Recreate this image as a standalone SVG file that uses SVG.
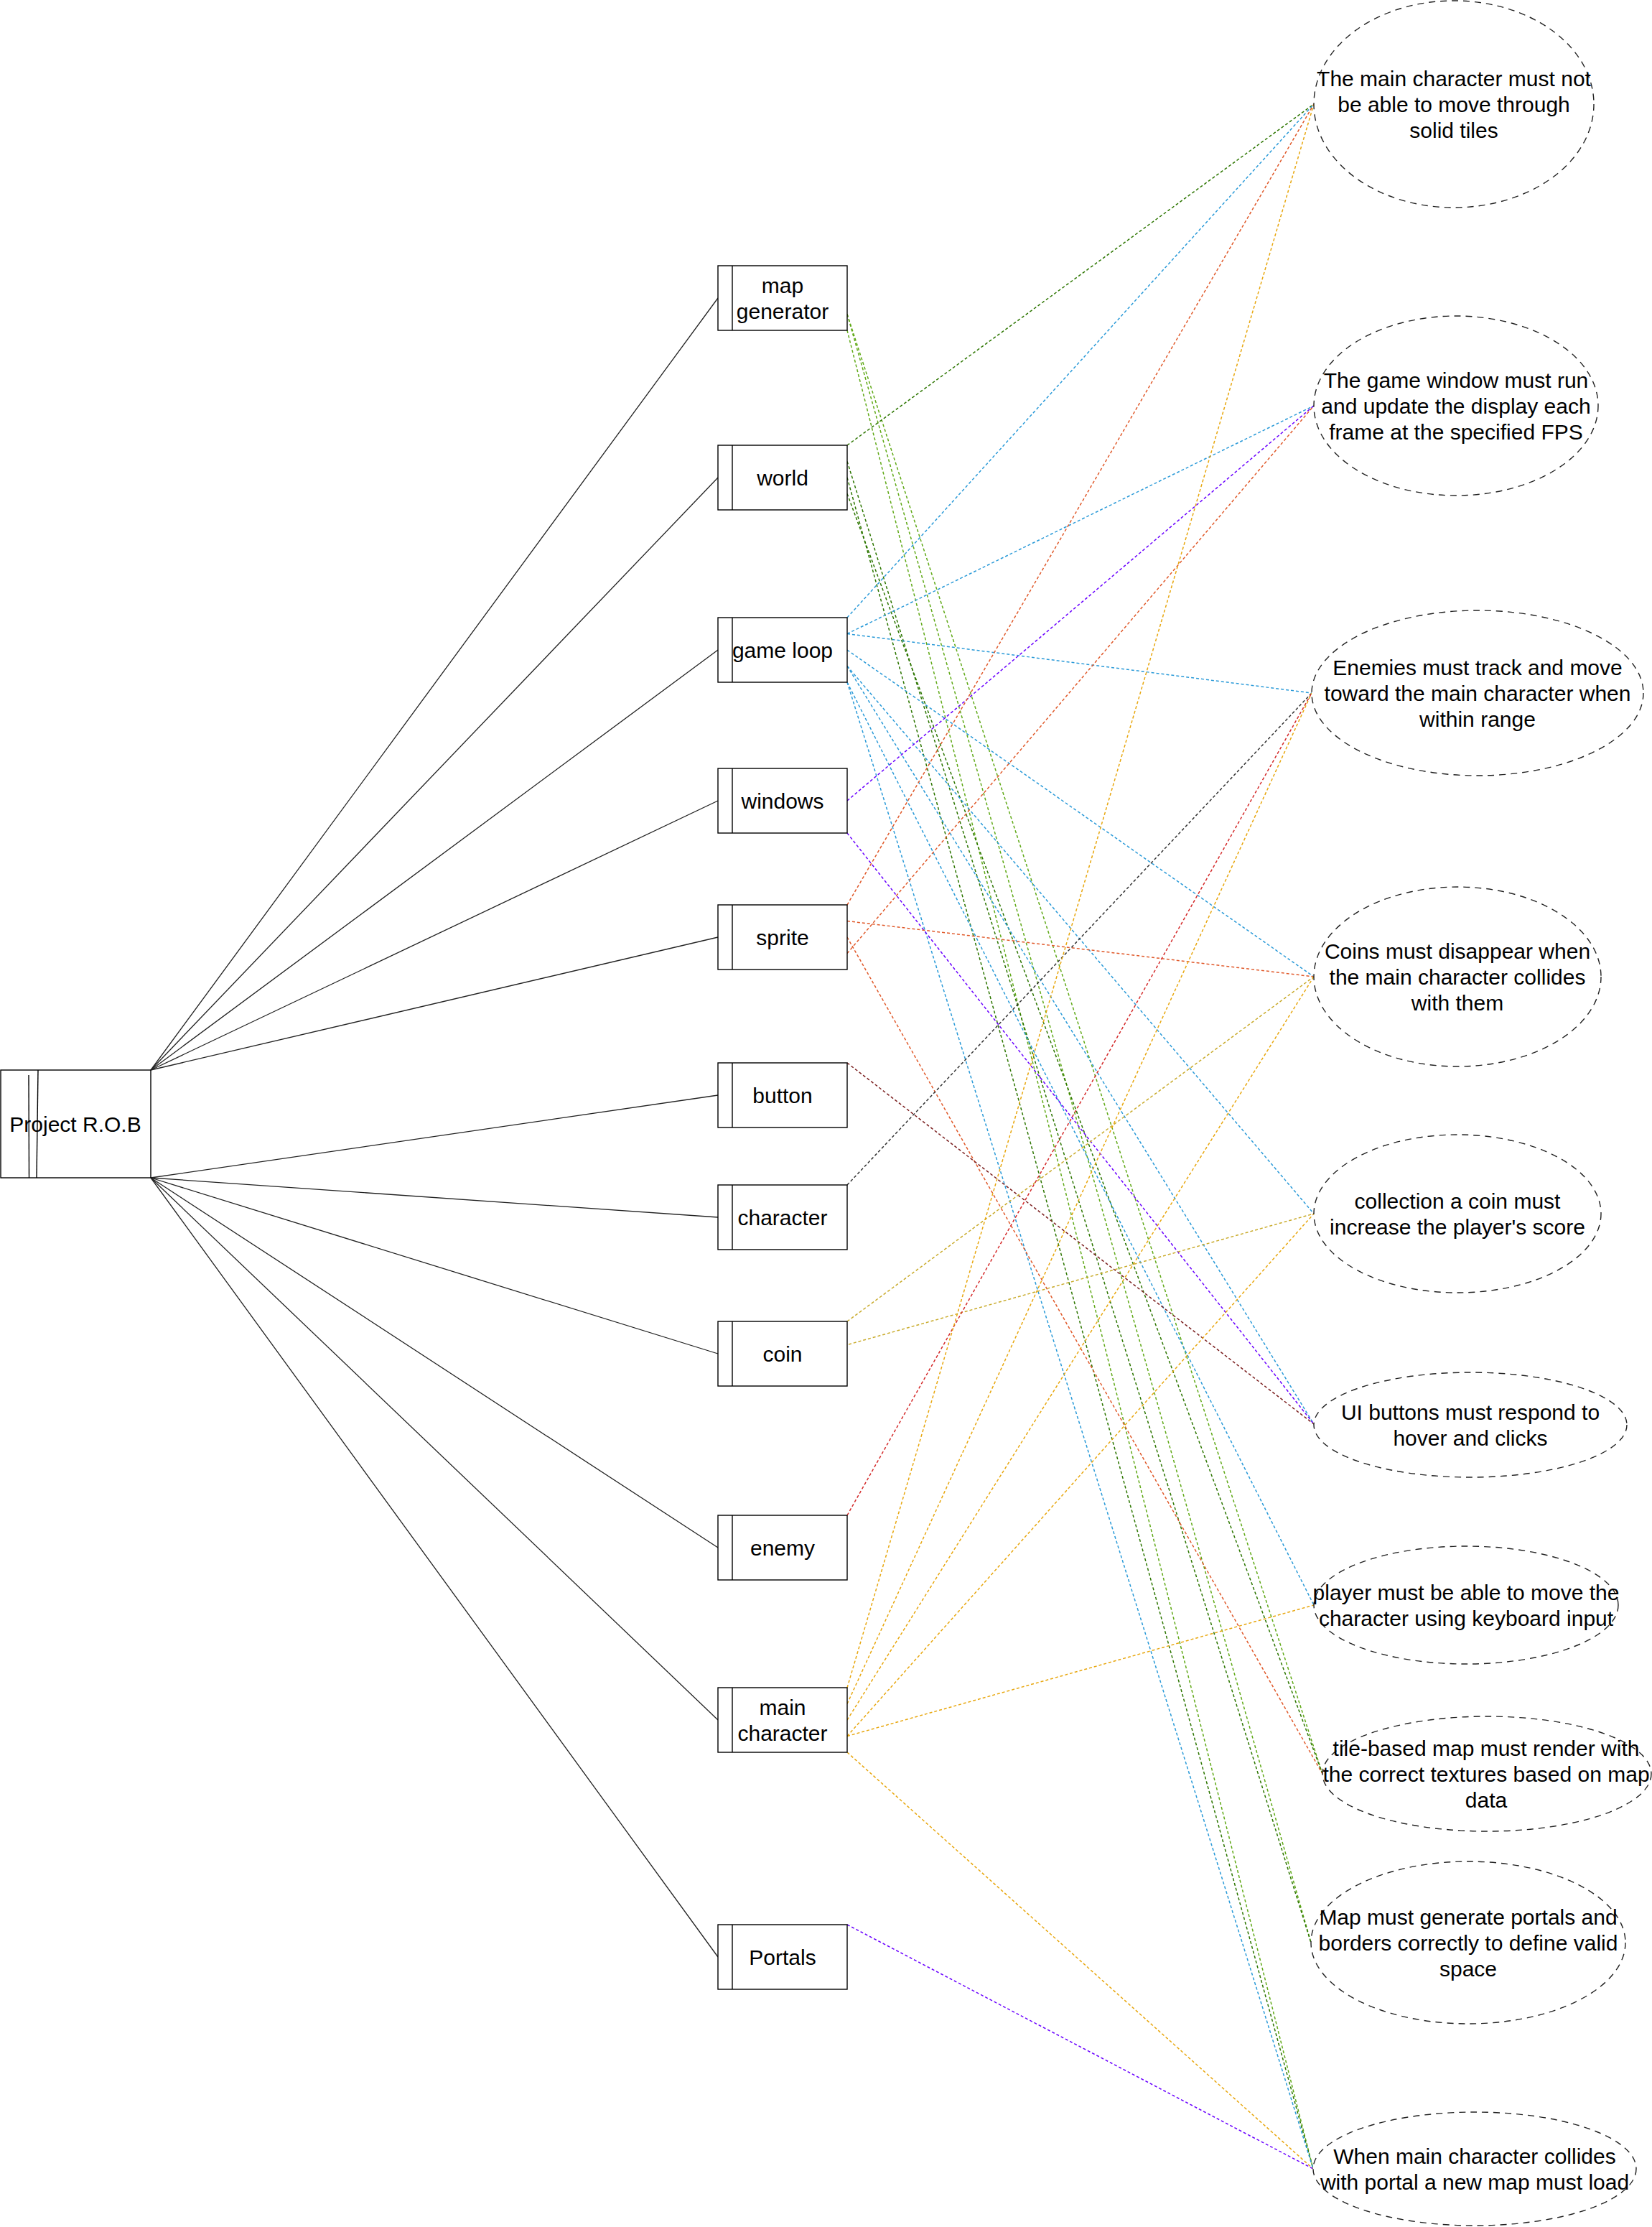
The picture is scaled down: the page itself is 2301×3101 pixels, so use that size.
<svg xmlns="http://www.w3.org/2000/svg" width="2301" height="3101" viewBox="0 0 2301 3101">
<style>
text{font-family:"Liberation Sans",Arial,Helvetica,sans-serif;font-size:30px;fill:#000;text-anchor:middle}
.box{fill:#fff;stroke:#000;stroke-width:1.4}
.strip{fill:none;stroke:#000;stroke-width:1.4}
.req{fill:#fff;stroke:#222;stroke-width:1.4;stroke-dasharray:9 7}
.solid{stroke:#222;stroke-width:1.3;fill:none}
.dot{fill:none;stroke-width:1.5;stroke-dasharray:4 3}
.lg{stroke:#60a917}.dg{stroke:#2d7600}.bl{stroke:#2a9ad8}.pu{stroke:#6a00ff}.or{stroke:#e0592a}.br{stroke:#7b1f1f}.gy{stroke:#333}.ol{stroke:#c9ab2c}.rd{stroke:#d42a2a}.am{stroke:#e8a70f}
</style>
<rect width="2301" height="3101" fill="#fff"/>
<g id="connectors">
<g id="tree">
<line class="solid" x1="210" y1="1490" x2="1000" y2="415"/>
<line class="solid" x1="210" y1="1490" x2="1000" y2="665"/>
<line class="solid" x1="210" y1="1490" x2="1000" y2="905"/>
<line class="solid" x1="210" y1="1490" x2="1000" y2="1115"/>
<line class="solid" x1="210" y1="1490" x2="1000" y2="1305"/>
<line class="solid" x1="210" y1="1640" x2="1000" y2="1525"/>
<line class="solid" x1="210" y1="1640" x2="1000" y2="1695"/>
<line class="solid" x1="210" y1="1640" x2="1000" y2="1885"/>
<line class="solid" x1="210" y1="1640" x2="1000" y2="2155"/>
<line class="solid" x1="210" y1="1640" x2="1000" y2="2395"/>
<line class="solid" x1="210" y1="1640" x2="1000" y2="2725"/>
</g>
<g id="traces">
<line class="dot lg" x1="1180" y1="437.5" x2="1826" y2="2705"/>
<line class="dot lg" x1="1180" y1="437.5" x2="1842" y2="2470"/>
<line class="dot lg" x1="1180" y1="460" x2="1829" y2="3020"/>
<line class="dot dg" x1="1180" y1="620" x2="1830" y2="145"/>
<line class="dot dg" x1="1180" y1="642.5" x2="1826" y2="2705"/>
<line class="dot dg" x1="1180" y1="665" x2="1829" y2="3020"/>
<line class="dot dg" x1="1180" y1="687.5" x2="1842" y2="2470"/>
<line class="dot bl" x1="1180" y1="860" x2="1830" y2="145"/>
<line class="dot bl" x1="1180" y1="882.5" x2="1830" y2="565"/>
<line class="dot bl" x1="1180" y1="882.5" x2="1827" y2="965"/>
<line class="dot bl" x1="1180" y1="905" x2="1830" y2="1360"/>
<line class="dot bl" x1="1180" y1="927.5" x2="1830" y2="1690"/>
<line class="dot bl" x1="1180" y1="927.5" x2="1830" y2="1983"/>
<line class="dot bl" x1="1180" y1="950" x2="1830" y2="2235"/>
<line class="dot bl" x1="1180" y1="950" x2="1829" y2="3020"/>
<line class="dot pu" x1="1180" y1="1115" x2="1830" y2="565"/>
<line class="dot pu" x1="1180" y1="1160" x2="1830" y2="1983"/>
<line class="dot or" x1="1180" y1="1260" x2="1830" y2="145"/>
<line class="dot or" x1="1180" y1="1282.5" x2="1830" y2="1360"/>
<line class="dot or" x1="1180" y1="1305" x2="1842" y2="2470"/>
<line class="dot or" x1="1180" y1="1327.5" x2="1830" y2="565"/>
<line class="dot br" x1="1180" y1="1480" x2="1830" y2="1983"/>
<line class="dot gy" x1="1180" y1="1650" x2="1827" y2="965"/>
<line class="dot ol" x1="1180" y1="1840" x2="1830" y2="1360"/>
<line class="dot ol" x1="1182" y1="1872" x2="1830" y2="1690"/>
<line class="dot rd" x1="1180" y1="2110" x2="1827" y2="965"/>
<line class="dot am" x1="1180" y1="2350" x2="1830" y2="145"/>
<line class="dot am" x1="1180" y1="2372.5" x2="1827" y2="965"/>
<line class="dot am" x1="1180" y1="2395" x2="1830" y2="1360"/>
<line class="dot am" x1="1180" y1="2417.5" x2="1830" y2="1690"/>
<line class="dot am" x1="1180" y1="2417.5" x2="1830" y2="2235"/>
<line class="dot am" x1="1180" y1="2440" x2="1829" y2="3020"/>
<line class="dot pu" x1="1180" y1="2680" x2="1829" y2="3020"/>
</g>
</g>
<g id="project-rob">
<rect class="box" x="1" y="1490" width="209" height="150"/>
<line class="strip" x1="40" y1="1497" x2="40.5" y2="1640"/>
<line class="strip" x1="53" y1="1490" x2="51" y2="1640"/>
<text x="105" y="1575.5">Project R.O.B</text>
</g>
<g id="map-generator">
<rect class="box" x="1000" y="370" width="180" height="90"/>
<line class="strip" x1="1020" y1="370" x2="1020" y2="460"/>
<text x="1090" y="407.5">map</text>
<text x="1090" y="443.5">generator</text>
</g>
<g id="world">
<rect class="box" x="1000" y="620" width="180" height="90"/>
<line class="strip" x1="1020" y1="620" x2="1020" y2="710"/>
<text x="1090" y="675.5">world</text>
</g>
<g id="game-loop">
<rect class="box" x="1000" y="860" width="180" height="90"/>
<line class="strip" x1="1020" y1="860" x2="1020" y2="950"/>
<text x="1090" y="915.5">game loop</text>
</g>
<g id="windows">
<rect class="box" x="1000" y="1070" width="180" height="90"/>
<line class="strip" x1="1020" y1="1070" x2="1020" y2="1160"/>
<text x="1090" y="1125.5">windows</text>
</g>
<g id="sprite">
<rect class="box" x="1000" y="1260" width="180" height="90"/>
<line class="strip" x1="1020" y1="1260" x2="1020" y2="1350"/>
<text x="1090" y="1315.5">sprite</text>
</g>
<g id="button">
<rect class="box" x="1000" y="1480" width="180" height="90"/>
<line class="strip" x1="1020" y1="1480" x2="1020" y2="1570"/>
<text x="1090" y="1535.5">button</text>
</g>
<g id="character">
<rect class="box" x="1000" y="1650" width="180" height="90"/>
<line class="strip" x1="1020" y1="1650" x2="1020" y2="1740"/>
<text x="1090" y="1705.5">character</text>
</g>
<g id="coin">
<rect class="box" x="1000" y="1840" width="180" height="90"/>
<line class="strip" x1="1020" y1="1840" x2="1020" y2="1930"/>
<text x="1090" y="1895.5">coin</text>
</g>
<g id="enemy">
<rect class="box" x="1000" y="2110" width="180" height="90"/>
<line class="strip" x1="1020" y1="2110" x2="1020" y2="2200"/>
<text x="1090" y="2165.5">enemy</text>
</g>
<g id="main-character">
<rect class="box" x="1000" y="2350" width="180" height="90"/>
<line class="strip" x1="1020" y1="2350" x2="1020" y2="2440"/>
<text x="1090" y="2387.5">main</text>
<text x="1090" y="2423.5">character</text>
</g>
<g id="portals">
<rect class="box" x="1000" y="2680" width="180" height="90"/>
<line class="strip" x1="1020" y1="2680" x2="1020" y2="2770"/>
<text x="1090" y="2735.5">Portals</text>
</g>
<g id="req-solid-tiles">
<ellipse class="req" cx="2025" cy="145" rx="195" ry="144"/>
<text x="2025" y="119.5">The main character must not</text>
<text x="2025" y="155.5">be able to move through</text>
<text x="2025" y="191.5">solid tiles</text>
</g>
<g id="req-game-window">
<ellipse class="req" cx="2028" cy="565" rx="198" ry="125"/>
<text x="2028" y="539.5">The game window must run</text>
<text x="2028" y="575.5">and update the display each</text>
<text x="2028" y="611.5">frame at the specified FPS</text>
</g>
<g id="req-enemies">
<ellipse class="req" cx="2058" cy="965" rx="231" ry="115"/>
<text x="2058" y="939.5">Enemies must track and move</text>
<text x="2058" y="975.5">toward the main character when</text>
<text x="2058" y="1011.5">within range</text>
</g>
<g id="req-coins-disappear">
<ellipse class="req" cx="2030" cy="1360" rx="200" ry="125"/>
<text x="2030" y="1334.5">Coins must disappear when</text>
<text x="2030" y="1370.5">the main character collides</text>
<text x="2030" y="1406.5">with them</text>
</g>
<g id="req-coin-score">
<ellipse class="req" cx="2030" cy="1690" rx="200" ry="110"/>
<text x="2030" y="1682.5">collection a coin must</text>
<text x="2030" y="1718.5">increase the player's score</text>
</g>
<g id="req-ui-buttons">
<ellipse class="req" cx="2048" cy="1984" rx="218" ry="73"/>
<text x="2048" y="1976.5">UI buttons must respond to</text>
<text x="2048" y="2012.5">hover and clicks</text>
</g>
<g id="req-keyboard">
<ellipse class="req" cx="2042" cy="2235" rx="212" ry="82"/>
<text x="2042" y="2227.5">player must be able to move the</text>
<text x="2042" y="2263.5">character using keyboard input</text>
</g>
<g id="req-tile-render">
<ellipse class="req" cx="2071" cy="2470" rx="229" ry="80"/>
<text x="2070" y="2444.5">tile-based map must render with</text>
<text x="2070" y="2480.5">the correct textures based on map</text>
<text x="2070" y="2516.5">data</text>
</g>
<g id="req-map-portals">
<ellipse class="req" cx="2045" cy="2705" rx="219" ry="113"/>
<text x="2045" y="2679.5">Map must generate portals and</text>
<text x="2045" y="2715.5">borders correctly to define valid</text>
<text x="2045" y="2751.5">space</text>
</g>
<g id="req-portal-load">
<ellipse class="req" cx="2054" cy="3020" rx="225" ry="79"/>
<text x="2054" y="3012.5">When main character collides</text>
<text x="2054" y="3048.5">with portal a new map must load</text>
</g>
</svg>
